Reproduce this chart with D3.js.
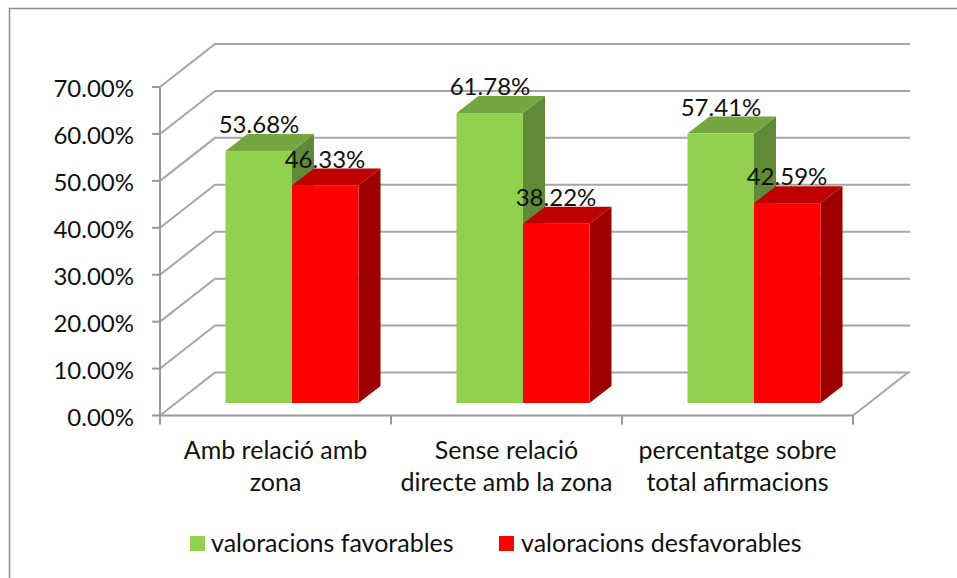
<!DOCTYPE html>
<html>
<head>
<meta charset="utf-8">
<script src="https://cdn.jsdelivr.net/npm/d3@7"></script>
<style>
  body { margin: 0; background: #fff; }
  text { font-family: Lato, "Open Sans", sans-serif; fill: #111; }
</style>
</head>
<body>
<svg id="chart" width="957" height="578"></svg>
<script>
// Values
const categories = [
  ["Amb relació amb", "zona"],
  ["Sense relació", "directe amb la zona"],
  ["percentatge sobre", "total afirmacions"]
];
const favorables = [53.68, 61.78, 57.41];
const desfavorables = [46.33, 38.22, 42.59];
const seriesNames = ["valoracions favorables", "valoracions desfavorables"];
const yTicks = [0, 10, 20, 30, 40, 50, 60, 70];

const svg = d3.select("#chart");
const gridColor = "#a6a6a6";

// Chart border, only top and left are in frame
svg.append("path")
  .attr("d", "M9.5,578V8.5H957")
  .attr("fill", "none")
  .attr("stroke", "#8c8c8c")
  .attr("stroke-width", 1.5);

// Scales for the front plane of the 3D box
const xScale = d3.scaleBand()
  .domain(d3.range(categories.length))
  .range([160, 853]);
const yScale = d3.scaleLinear().domain([0, 70]).range([415.5, 87]);

// Depth of the wall and of the bars
const wallDepth = {dx: 55, dy: -43};
const barDepth = {dx: 22, dy: -17};
const barLift = 12.5;
const barInset = 65.5;
const barWidth = 66.5;

// Floor and side wall lines
const gridG = svg.append("g")
  .attr("fill", "none")
  .attr("stroke", gridColor)
  .attr("stroke-width", 2);

yTicks.forEach(t => {
  const y = yScale(t);
  gridG.append("path")
    .attr("d", `M160,${y}L${160 + wallDepth.dx},${y + wallDepth.dy}H${853 + wallDepth.dx + 2}`);
});
gridG.append("path")
  .attr("d", `M853,${yScale(0)}L${853 + wallDepth.dx},${yScale(0) + wallDepth.dy}`);

// Axes
const axisG = svg.append("g").attr("stroke", "#999").attr("stroke-width", 2).attr("fill", "none");
axisG.append("path").attr("d", `M160,${yScale(70)}V${yScale(0)}H853`);
yTicks.forEach(t => {
  axisG.append("path").attr("d", `M152,${yScale(t)}H160`);
});
d3.range(categories.length + 1).forEach(i => {
  const x = 160 + i * xScale.bandwidth();
  axisG.append("path").attr("d", `M${x},${yScale(0)}v9`);
});

// Y tick labels
svg.append("g").selectAll("text")
  .data(yTicks)
  .enter()
  .append("text")
  .attr("x", 134)
  .attr("y", d => yScale(d) + 10)
  .attr("text-anchor", "end")
  .attr("font-size", "24px")
  .text(d => d.toFixed(2) + "%");

// One 3D bar: front face, top and side
function drawBar(g, x, value, colors) {
  const base = yScale(0) - barLift;
  const h = yScale(0) - yScale(value);
  const top = base - h;
  const {dx, dy} = barDepth;
  g.append("path")
    .attr("d", `M${x + barWidth},${top}l${dx},${dy}V${base + dy}L${x + barWidth},${base}Z`)
    .attr("fill", colors.side);
  g.append("path")
    .attr("d", `M${x},${top}l${dx},${dy}h${barWidth}l${-dx},${-dy}Z`)
    .attr("fill", colors.top);
  g.append("rect")
    .attr("x", x)
    .attr("y", top)
    .attr("width", barWidth)
    .attr("height", h)
    .attr("fill", colors.front);
}

const greenColors = {front: "#92d050", top: "#75a640", side: "#608a37"};
const redColors = {front: "#ff0000", top: "#bf0000", side: "#9e0000"};

const barsG = svg.append("g");
categories.forEach((c, i) => {
  const x0 = xScale(i) + barInset;
  drawBar(barsG, x0, favorables[i], greenColors);
  drawBar(barsG, x0 + barWidth, desfavorables[i], redColors);
});

// Data labels
function drawLabels(values, offset) {
  svg.append("g").selectAll("text")
    .data(values)
    .enter()
    .append("text")
    .attr("x", (d, i) => xScale(i) + barInset + offset)
    .attr("y", d => yScale(0) - barLift - (yScale(0) - yScale(d)) - 18)
    .attr("text-anchor", "middle")
    .attr("font-size", "24px")
    .text(d => d.toFixed(2) + "%");
}
drawLabels(favorables, 33.5);
drawLabels(desfavorables, 99.5);

// Category labels
categories.forEach((c, i) => {
  svg.append("text")
    .attr("x", xScale(i) + xScale.bandwidth() / 2)
    .attr("y", 459)
    .attr("text-anchor", "middle")
    .attr("font-size", "25px")
    .selectAll("tspan")
    .data(c)
    .enter()
    .append("tspan")
    .attr("x", xScale(i) + xScale.bandwidth() / 2)
    .attr("dy", (d, j) => j ? 32 : 0)
    .text(d => d);
});

// Legend
const legendX = [190, 499];
const legendTextX = [211, 521];
seriesNames.forEach((name, i) => {
  svg.append("rect")
    .attr("x", legendX[i])
    .attr("y", 536)
    .attr("width", 15)
    .attr("height", 15)
    .attr("fill", i ? "#ff0000" : "#92d050");
  svg.append("text")
    .attr("x", legendTextX[i])
    .attr("y", 552)
    .attr("font-size", "25px")
    .text(name);
});
</script>
</body>
</html>
